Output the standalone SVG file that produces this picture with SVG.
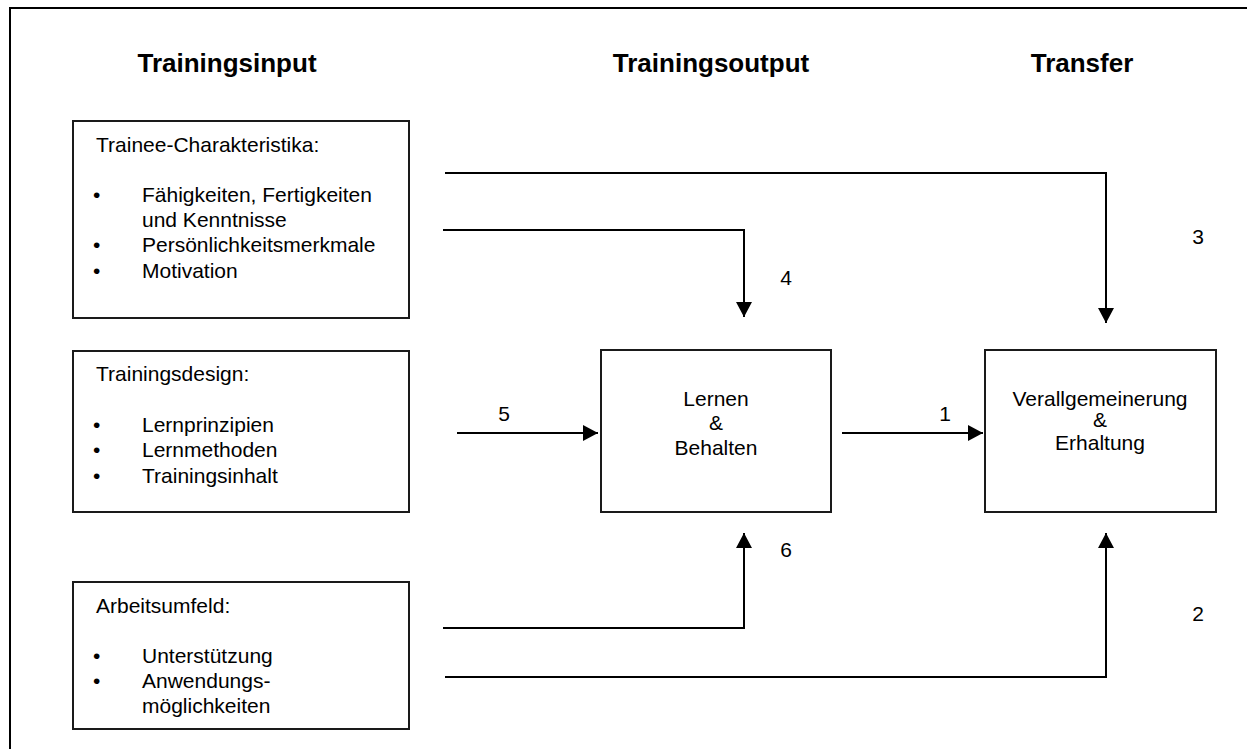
<svg xmlns="http://www.w3.org/2000/svg" width="1247" height="749" viewBox="0 0 1247 749">
<defs>
<style>
.box{fill:#fff;stroke:#1a1a1a;stroke-width:2}
.t{font-family:"Liberation Sans",Arial,sans-serif;font-size:21px;fill:#000}
.h{font-family:"Liberation Sans",Arial,sans-serif;font-size:26px;font-weight:bold;fill:#000;text-anchor:middle}
.c{text-anchor:middle}
.ln{fill:none;stroke:#000;stroke-width:2}
</style>
<marker id="ah" markerWidth="16" markerHeight="16" refX="15" refY="8" orient="auto" markerUnits="userSpaceOnUse">
<path d="M0,0 L15,8 L0,16 Z" fill="#000"/>
</marker>
</defs>
<rect x="0" y="0" width="1247" height="749" fill="#fff"/>
<rect x="10" y="8" width="1260" height="770" fill="none" stroke="#000" stroke-width="2"/>
<g id="headings">
<text class="h" x="227" y="72">Trainingsinput</text>
<text class="h" x="711" y="72">Trainingsoutput</text>
<text class="h" x="1082" y="72">Transfer</text>
</g>
<g id="connectors">
<path class="ln" d="M445,173 H1106 V323" marker-end="url(#ah)"/>
<path class="ln" d="M443,230 H744 V317" marker-end="url(#ah)"/>
<path class="ln" d="M457,433 H598" marker-end="url(#ah)"/>
<path class="ln" d="M842,433 H983" marker-end="url(#ah)"/>
<path class="ln" d="M443,628 H744 V533" marker-end="url(#ah)"/>
<path class="ln" d="M445,677 H1106 V533" marker-end="url(#ah)"/>
<text class="t c" x="1198" y="244">3</text>
<text class="t c" x="786" y="285">4</text>
<text class="t c" x="504" y="421">5</text>
<text class="t c" x="945" y="421">1</text>
<text class="t c" x="786" y="557">6</text>
<text class="t c" x="1198" y="621">2</text>
</g>
<g id="trainee">
<rect class="box" x="73" y="121" width="336" height="197"/>
<text class="t" x="96" y="152">Trainee-Charakteristika:</text>
<text class="t" x="93" y="202">•</text><text class="t" x="142" y="202">Fähigkeiten, Fertigkeiten</text>
<text class="t" x="142" y="227">und Kenntnisse</text>
<text class="t" x="93" y="252">•</text><text class="t" x="142" y="252">Persönlichkeitsmerkmale</text>
<text class="t" x="93" y="278">•</text><text class="t" x="142" y="278">Motivation</text>
</g>
<g id="design">
<rect class="box" x="73" y="351" width="336" height="161"/>
<text class="t" x="96" y="381">Trainingsdesign:</text>
<text class="t" x="93" y="432">•</text><text class="t" x="142" y="432">Lernprinzipien</text>
<text class="t" x="93" y="457">•</text><text class="t" x="142" y="457">Lernmethoden</text>
<text class="t" x="93" y="483">•</text><text class="t" x="142" y="483">Trainingsinhalt</text>
</g>
<g id="umfeld">
<rect class="box" x="73" y="582" width="336" height="147"/>
<text class="t" x="96" y="613">Arbeitsumfeld:</text>
<text class="t" x="93" y="663">•</text><text class="t" x="142" y="663">Unterstützung</text>
<text class="t" x="93" y="688">•</text><text class="t" x="142" y="688">Anwendungs-</text>
<text class="t" x="142" y="713">möglichkeiten</text>
</g>
<g id="lernen">
<rect class="box" x="601" y="350" width="230" height="162"/>
<text class="t c" x="716" y="406">Lernen</text>
<text class="t c" x="716" y="430">&amp;</text>
<text class="t c" x="716" y="455">Behalten</text>
</g>
<g id="transfer">
<rect class="box" x="985" y="350" width="231" height="162"/>
<text class="t c" x="1100" y="406">Verallgemeinerung</text>
<text class="t c" x="1100" y="427">&amp;</text>
<text class="t c" x="1100" y="450">Erhaltung</text>
</g>
</svg>
